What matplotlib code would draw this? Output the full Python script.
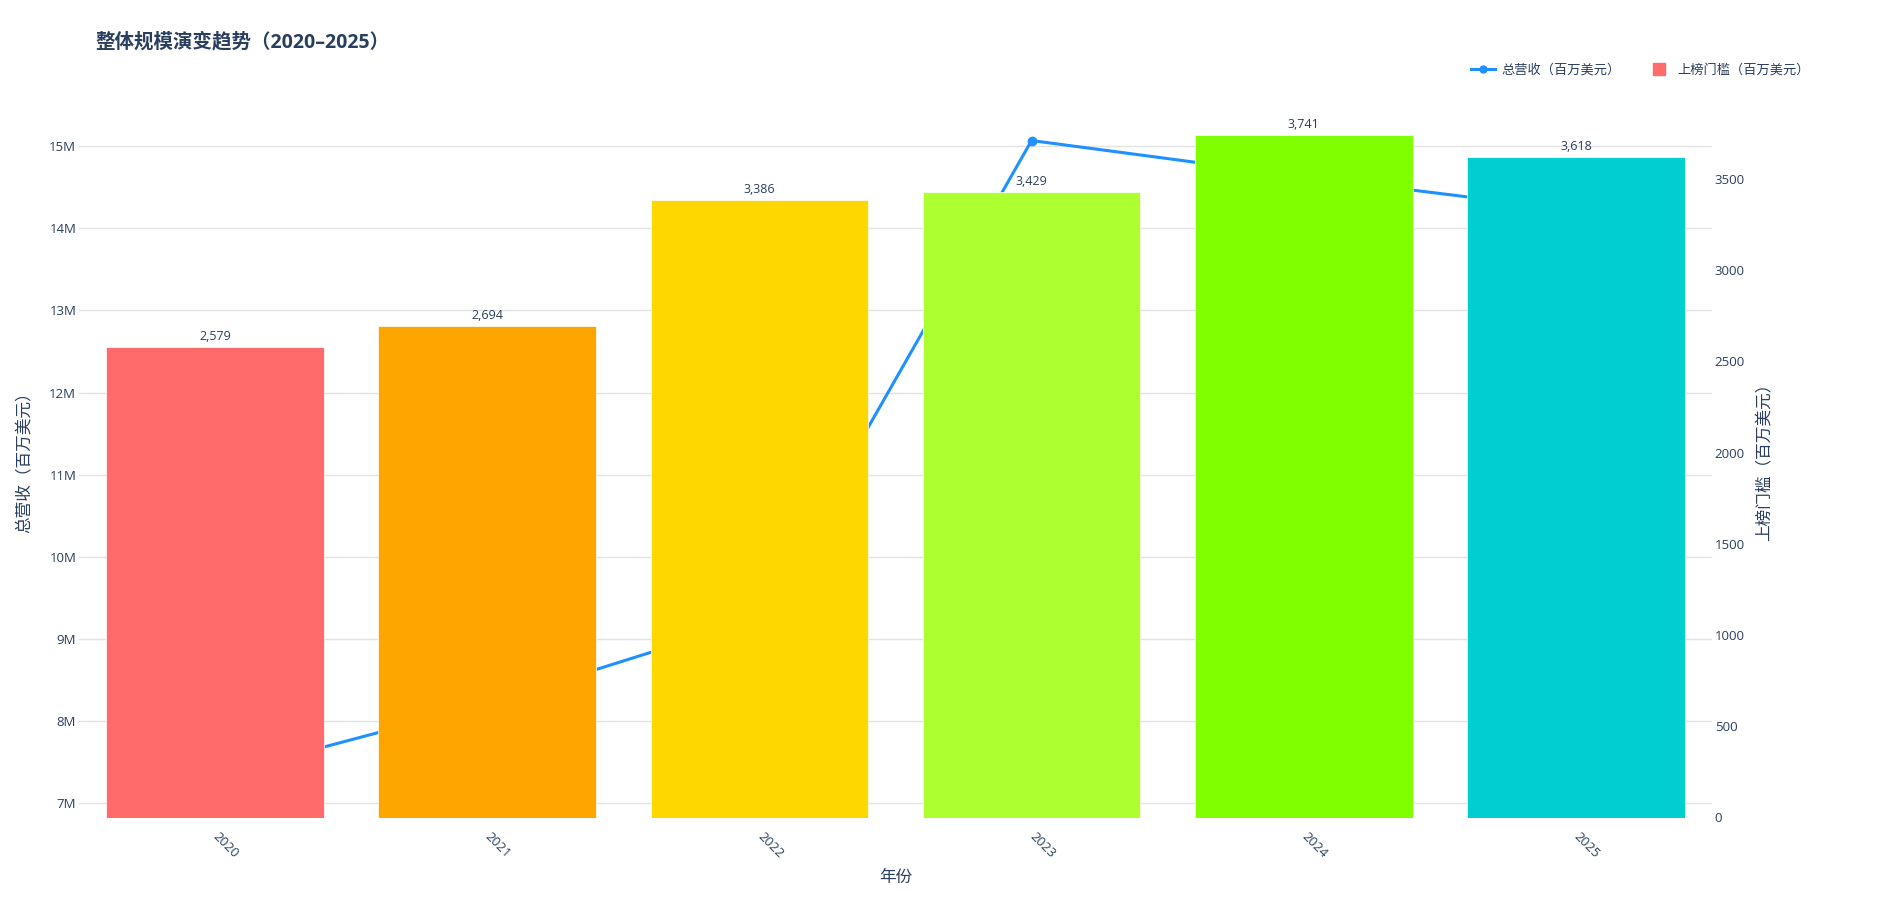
import matplotlib
matplotlib.use("Agg")
import matplotlib.pyplot as plt
from matplotlib.lines import Line2D
from matplotlib.ticker import FuncFormatter

plt.rcParams["font.family"] = ["Open Sans", "Noto Sans CJK SC", "DejaVu Sans"]

years = ["2020", "2021", "2022", "2023", "2024", "2025"]
revenue = [7.33e6, 8.21e6, 9.25e6, 15.07e6, 14.63e6, 14.22e6]   # 总营收 (left axis)
threshold = [2579, 2694, 3386, 3429, 3741, 3618]                # 上榜门槛 (right axis)
bar_colors = ["#FF6B6B", "#FFA500", "#FFD700", "#ADFF2F", "#7FFF00", "#00CED1"]

TXT = "#2a3f5f"
GRID = "#e2e2e2"

W, H = 1896, 898
fig = plt.figure(figsize=(W / 100, H / 100), dpi=100)
ax = fig.add_axes([79 / W, 1 - 817.5 / H, (1712 - 79) / W, (817.5 - 99) / H])
ax2 = ax.twinx()

x = list(range(len(years)))

# line on the left axis (sits behind the bars)
ax.plot(x, revenue, color="#1E90FF", lw=2.2, marker="o", ms=6, zorder=3)
ax.set_ylim(6.823e6, 15.576e6)
ax.set_yticks([v * 1e6 for v in range(7, 16)])
ax.yaxis.set_major_formatter(FuncFormatter(lambda v, _: f"{v / 1e6:.0f}M"))
ax.grid(axis="y", color=GRID, lw=1)
ax.set_axisbelow(True)

# bars on the right axis
ax2.bar(x, threshold, width=0.8, color=bar_colors, edgecolor="white", linewidth=0.5)
for xi, v in zip(x, threshold):
    ax2.annotate(f"{v:,}", (xi, v), xytext=(0, 3), textcoords="offset points",
                 ha="center", va="bottom", fontsize=9, color=TXT)
ax2.set_ylim(0, 3938)
ax2.set_yticks(range(0, 4000, 500))

ax.set_xlim(-0.5, 5.5)
ax.set_xticks(x)
ax.set_xticklabels(years, rotation=-45, ha="left", va="center", rotation_mode="anchor")

for a in (ax, ax2):
    for s in a.spines.values():
        s.set_visible(False)
    a.tick_params(length=0, colors=TXT, labelsize=9.5)
ax.tick_params(axis="y", pad=2)
ax.tick_params(axis="x", pad=12)
ax2.tick_params(axis="y", pad=2)

ax.set_xlabel("年份", fontsize=12, color=TXT, labelpad=7)
ax.set_ylabel("总营收（百万美元）", fontsize=12, color=TXT, labelpad=11)
ax2.set_ylabel("上榜门槛（百万美元）", fontsize=12, color=TXT, labelpad=9)

fig.text(95 / W, 1 - 42 / H, "整体规模演变趋势（2020–2025）", fontsize=14,
         fontweight="bold", color=TXT, ha="left", va="center")

handles = [
    Line2D([0], [0], color="#1E90FF", lw=2.2, marker="o", ms=5),
    Line2D([0], [0], color="#FF6B6B", ls="", marker="s", ms=9),
]
fig.legend(handles, ["总营收（百万美元）", "上榜门槛（百万美元）"], ncol=2, frameon=False,
           loc="center right", bbox_to_anchor=(1822 / W, 1 - 70 / H), fontsize=9.5,
           labelcolor=TXT, handlelength=1.8, columnspacing=2.0, handletextpad=0.5)

fig.savefig("out.png", dpi=100, facecolor="white")
